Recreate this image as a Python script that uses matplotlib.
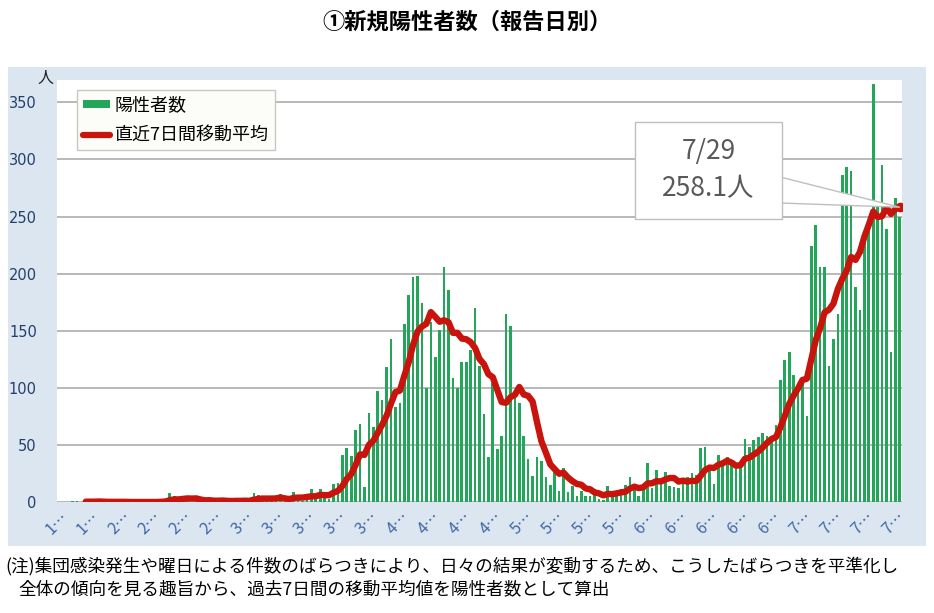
import numpy as np
import pandas as pd
import matplotlib
matplotlib.use("Agg")
import matplotlib.pyplot as plt
import matplotlib.transforms as mtransforms
from matplotlib.patches import Rectangle, Polygon, Patch
from matplotlib.lines import Line2D

plt.rcParams['font.family'] = ['Noto Sans CJK JP', 'DejaVu Sans']

# ---- data (daily new positives by report date, 2020-01-21 .. 2020-07-29) ----
start_date = "2020-01-21"
cases_jan = [0, 0, 0, 1, 1, 0, 0, 0, 0, 1, 0]
cases_feb = [0, 0, 0, 0, 0, 0, 0, 0, 0, 0, 0, 0, 1, 2, 8, 5, 0, 3, 3, 0,
             3, 1, 0, 1, 0, 3, 1, 1, 0]
cases_mar = [1, 1, 1, 2, 8, 6, 2, 1, 1, 2, 7, 3, 2, 9, 3, 1, 6, 11, 3, 11,
             7, 3, 16, 17, 41, 47, 40, 63, 68, 13, 78]
cases_apr = [66, 97, 89, 118, 143, 83, 87, 156, 181, 197, 198, 174, 100, 158,
             127, 151, 206, 186, 109, 100, 123, 123, 133, 170, 119, 77, 39,
             104, 46, 58]
cases_may = [165, 154, 91, 87, 58, 38, 23, 39, 36, 22, 15, 28, 10, 30, 9, 14,
             5, 10, 5, 5, 11, 3, 2, 14, 8, 10, 11, 15, 22, 14, 5]
cases_jun = [13, 34, 12, 28, 20, 26, 14, 13, 12, 18, 22, 25, 24, 47, 48, 27,
             16, 41, 35, 39, 35, 29, 31, 55, 48, 54, 57, 60, 58, 54]
cases_jul = [67, 107, 124, 131, 111, 102, 106, 75, 224, 243, 206, 206, 119,
             143, 165, 286, 293, 290, 188, 168, 237, 238, 366, 260, 295, 239,
             131, 266, 250]
tick_labels = ["1…", "1…", "2…", "2…", "2…", "2…", "3…", "3…", "3…", "3…",
               "3…", "4…", "4…", "4…", "4…", "5…", "5…", "5…", "5…", "6…",
               "6…", "6…", "6…", "6…", "7…", "7…", "7…", "7…"]
label_interval = 7
ma_start = 6
callout_text = "7/29\n258.1人"

cases = np.array(cases_jan + cases_feb + cases_mar + cases_apr + cases_may
                 + cases_jun + cases_jul, dtype=float)
dates = pd.date_range(start_date, periods=len(cases), freq="D")
ma7 = pd.Series(cases).rolling(7, min_periods=1).mean().values
x = np.arange(len(cases))

# ---- figure ----
W, H = 934, 613
fig = plt.figure(figsize=(W / 100, H / 100), dpi=100)
fig.patch.set_facecolor("white")

# chart panel background
fig.add_artist(Rectangle((8 / W, 1 - 546 / H), 918 / W, 479 / H,
                         transform=fig.transFigure, facecolor="#DCE6F1",
                         edgecolor="none", zorder=0))

ax = fig.add_axes([57 / W, 1 - 502 / H, 845 / W, 422.5 / H])
ax.set_facecolor("white")
ax.set_zorder(1)

green = "#23A65A"
red = "#C8140C"
ax.bar(x, cases, width=0.6, color=green, zorder=2)
ax.plot(x[ma_start:], ma7[ma_start:], color=red, lw=4.6,
        solid_capstyle="round", solid_joinstyle="round", zorder=3)
ax.plot([x[-1]], [ma7[-1]], "o", color=red, ms=6, zorder=4)

ax.set_xlim(-0.5, len(cases) - 0.5)
ax.set_ylim(0, 370)
ax.set_yticks(np.arange(0, 351, 50))
ax.yaxis.grid(True, color="#A6A6A6", lw=1.1)
ax.set_axisbelow(True)
for s in ax.spines.values():
    s.set_visible(False)
ax.tick_params(axis="y", length=0, pad=14.5, labelsize=10.5, labelcolor="#24406A")
ax.set_yticklabels([str(v) for v in range(0, 351, 50)], family="DejaVu Sans")

tick_pos = x[::label_interval][:len(tick_labels)]
ax.set_xticks(tick_pos)
ax.set_xticklabels(tick_labels, rotation=45, ha="right", va="center",
                   rotation_mode="anchor", fontsize=11.5, color="#3F68A6")
ax.tick_params(axis="x", length=0, pad=9)
offset = mtransforms.ScaledTranslation(7 / 100, 0, fig.dpi_scale_trans)
for lab in ax.get_xticklabels():
    lab.set_transform(lab.get_transform() + offset)

# legend
handles = [Patch(facecolor=green, edgecolor="none"),
           Line2D([0], [0], color=red, lw=4.5, solid_capstyle="round")]
leg = ax.legend(handles, ["陽性者数", "直近7日間移動平均"], loc="upper left",
                bbox_to_anchor=(0.0237, 0.975), borderaxespad=0,
                fontsize=13, frameon=True, fancybox=False,
                handlelength=1.5, handleheight=0.35, labelspacing=0.65,
                handletextpad=0.25, borderpad=0.35)
leg.get_frame().set_edgecolor("#C8C8C0")
leg.get_frame().set_facecolor("#FCFCF8")
leg.get_frame().set_alpha(1)
leg.get_frame().set_linewidth(1.0)

# callout
tip_disp = ax.transData.transform((x[-1], ma7[-1]))
tip = fig.transFigure.inverted().transform(tip_disp)
bx0, bx1, by0, by1 = 635, 782, 122, 219
wedge = Polygon([(bx1 / W - 0.002, 1 - 177 / H), (tip[0], tip[1]),
                 (bx1 / W - 0.002, 1 - 203 / H)], closed=True,
                transform=fig.transFigure, facecolor="white",
                edgecolor="#BFBFBF", lw=1.0, zorder=5)
fig.add_artist(wedge)
fig.add_artist(Rectangle((bx0 / W, 1 - by1 / H), (bx1 - bx0) / W, (by1 - by0) / H,
                         transform=fig.transFigure, facecolor="white",
                         edgecolor="#BFBFBF", lw=1.0, zorder=6))
fig.text((bx0 + bx1) / 2 / W, 1 - 170 / H, callout_text, ha="center",
         va="center", fontsize=19, color="#595959", linespacing=1.45, zorder=7)

# texts
fig.text(0.5, 1 - 22 / H, "①新規陽性者数（報告日別）", ha="center", va="center",
         fontsize=16, fontweight="bold", color="black")
fig.text(45 / W, 1 - 78 / H, "人", ha="center", va="center", fontsize=11.5,
         color="#222222")
fig.text(5 / W, 1 - 566 / H,
         "(注)集団感染発生や曜日による件数のばらつきにより、日々の結果が変動するため、こうしたばらつきを平準化し",
         ha="left", va="center", fontsize=12.7, color="black")
fig.text(18 / W, 1 - 589 / H,
         "全体の傾向を見る趣旨から、過去7日間の移動平均値を陽性者数として算出",
         ha="left", va="center", fontsize=12.7, color="black")

fig.savefig("out.png", dpi=100)
